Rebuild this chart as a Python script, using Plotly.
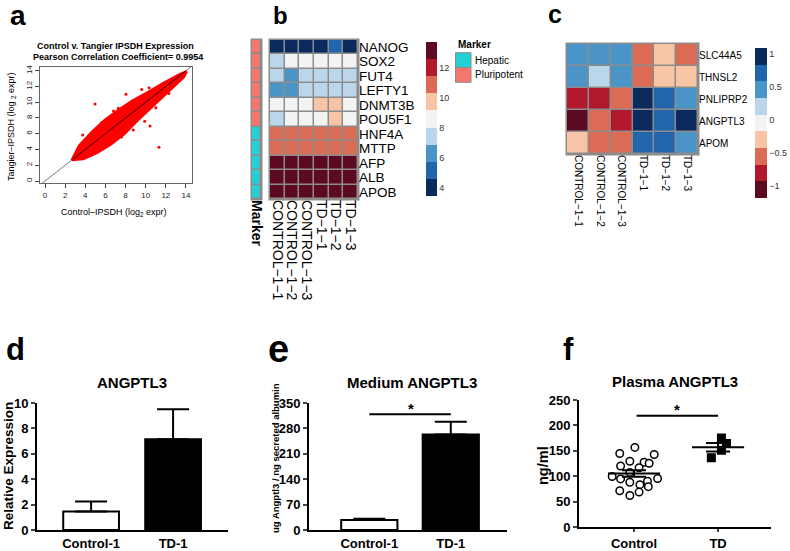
import plotly.graph_objects as go
import numpy as np

W, H = 790, 551
FONT = "Liberation Sans, Arial, sans-serif"

# ---------------- data ----------------
# a: outline of the dense point cloud and stray points
cloud_x = [2.65, 3.4, 4.7, 6.0, 7.4, 8.7, 10.1, 11.7, 13.4, 14.07,
           13.8, 12.8, 11.5, 10.2, 9.2, 7.9, 6.5, 5.2, 3.8, 2.65]
cloud_y = [2.66, 4.5, 6.3, 7.8, 9.1, 10.2, 11.2, 12.4, 13.55, 13.9,
           13.2, 12.0, 10.5, 9.0, 7.7, 6.0, 4.6, 3.6, 2.8, 2.66]
stray_x = [4.97, 3.74, 11.32, 10.43, 10.33, 8.04, 7.28, 6.13, 8.77, 5.3,
           9.6, 12.3, 6.8, 5.6, 9.9, 11.0, 7.6, 4.3]
stray_y = [9.77, 5.84, 4.28, 6.98, 11.84, 11.0, 9.22, 4.57, 6.47, 4.57,
           11.6, 11.1, 8.9, 7.4, 7.6, 9.3, 5.6, 3.3]
fit_x = [2.8, 13.9]
diag_x = [-1, 15]
a_ticks = [0, 2, 4, 6, 8, 10, 12, 14]

# b: expression heatmap
b_genes = ["NANOG", "SOX2", "FUT4", "LEFTY1", "DNMT3B", "POU5F1",
           "HNF4A", "MTTP", "AFP", "ALB", "APOB"]
samples = ["CONTROL−1−1", "CONTROL−1−2", "CONTROL−1−3", "TD−1−1", "TD−1−2", "TD−1−3"]
b_marker = ["Pluripotent"] * 6 + ["Hepatic"] * 5
b_values = [
    [4.0, 4.1, 4.0, 4.1, 5.0, 4.0],
    [7.6, 8.4, 8.5, 8.4, 8.6, 8.5],
    [7.5, 6.4, 7.4, 7.5, 7.6, 7.5],
    [6.5, 6.3, 7.3, 7.4, 7.5, 7.4],
    [8.6, 8.7, 8.8, 9.6, 9.7, 8.9],
    [7.6, 8.5, 8.6, 8.7, 9.5, 8.6],
    [10.9, 11.0, 10.9, 11.0, 10.9, 11.0],
    [10.8, 10.9, 10.9, 10.8, 10.9, 10.8],
    [13.3, 13.3, 13.3, 13.3, 13.3, 13.3],
    [13.4, 13.4, 13.4, 13.4, 13.4, 13.4],
    [13.2, 13.2, 13.2, 13.2, 13.2, 13.2],
]
b_ticks = [4, 6, 8, 10, 12]

# c: scaled expression heatmap
c_genes = ["SLC44A5", "THNSL2", "PNLIPRP2", "ANGPTL3", "APOM"]
c_values = [
    [0.45, 0.45, 0.45, -0.55, -0.3, -0.55],
    [0.45, 0.2, 0.45, -0.55, -0.3, -0.3],
    [-0.8, -0.8, -0.55, 1.0, 0.7, 0.45],
    [-1.05, -0.55, -0.8, 1.0, 0.7, 1.0],
    [-0.3, -0.55, -0.55, 0.7, 0.7, 0.45],
]
c_ticks = [-1, -0.5, 0, 0.5, 1]

# d
d_groups = ["Control-1", "TD-1"]
d_mean = [1.45, 7.15]
d_err = [0.8, 2.35]
d_ticks = [0, 2, 4, 6, 8, 10]

# e
e_mean = [27.5, 263]
e_err = [3.5, 35]
e_sig = 319
e_ticks = [0, 70, 140, 210, 280, 350]

# f
f_groups = ["Control", "TD"]
f_control = [156.7, 144.7, 142.7, 129.4, 127.4, 125.4, 120, 116.7, 107.4, 99.4,
             94.7, 95.4, 88, 90, 83.4, 79.4, 71.4, 68.7, 62]
f_control_dx = [0.01, -0.17, 0.24, -0.05, 0.12, 0.18, -0.16, 0.06, -0.05, -0.26,
                -0.16, 0.28, -0.05, 0.16, 0.07, 0.17, -0.17, 0.06, -0.05]
f_td = [175.4, 164.3, 151.3, 136.4]
f_td_dx = [0.04, 0.10, 0.04, -0.08]
f_sig = 219
f_ticks = [0, 50, 100, 150, 200, 250]

# colours
bins9 = ["#0A2A5E", "#2166AC", "#4A94C8", "#B9D6EA", "#F3F3F3",
         "#F7C4A6", "#DC6B55", "#B2182B", "#5C0A22"]
marker_colors = {"Hepatic": "#22D0D5", "Pluripotent": "#F7776E"}
GRID = "#8C8C8C"


def px(x):
    return x / W


def py(y):
    return 1 - y / H


def stepped(colors):
    n = len(colors)
    out = []
    for i, c in enumerate(colors):
        out += [[i / n, c], [(i + 1) / n, c]]
    return out


fig = go.Figure()

# ---------------- a ----------------
fig.add_trace(go.Scatter(x=diag_x, y=diag_x, mode="lines", line=dict(color="#555", width=0.8),
                         xaxis="x", yaxis="y", hoverinfo="skip"))
fig.add_trace(go.Scatter(x=cloud_x, y=cloud_y, mode="lines", fill="toself", fillcolor="#FF0000",
                         line=dict(color="#FF0000", width=2.5), xaxis="x", yaxis="y"))
fig.add_trace(go.Scatter(x=stray_x, y=stray_y, mode="markers",
                         marker=dict(color="#FF0000", size=3), xaxis="x", yaxis="y"))
fig.add_trace(go.Scatter(x=fit_x, y=fit_x, mode="lines", line=dict(color="black", width=0.8),
                         xaxis="x", yaxis="y"))

# ---------------- b ----------------
marker_codes = [[0 if m == "Pluripotent" else 1] for m in b_marker]
fig.add_trace(go.Heatmap(z=marker_codes, x=[0], y=list(range(len(b_genes))),
                         colorscale=[[0, marker_colors["Pluripotent"]], [0.5, marker_colors["Pluripotent"]],
                                     [0.5, marker_colors["Hepatic"]], [1, marker_colors["Hepatic"]]],
                         zmin=0, zmax=1, showscale=False, xgap=1.5, ygap=1.5,
                         xaxis="x2", yaxis="y2"))
fig.add_trace(go.Heatmap(z=b_values, x=list(range(len(samples))), y=list(range(len(b_genes))),
                         colorscale=stepped(bins9), zmin=3.45, zmax=13.7, xgap=1.5, ygap=1.5,
                         xaxis="x3", yaxis="y3",
                         colorbar=dict(x=px(426), xanchor="left", y=py(42), yanchor="top",
                                       len=154, lenmode="pixels", thickness=11, outlinewidth=0,
                                       xpad=0, ypad=0, tickvals=b_ticks, ticks="",
                                       title=dict(text="", side="right"),
                                       tickfont=dict(size=9, color="#333", family=FONT))))

# ---------------- c ----------------
fig.add_trace(go.Heatmap(z=c_values, x=list(range(len(samples))), y=list(range(len(c_genes))),
                         colorscale=stepped(bins9), reversescale=True, zmin=-1.18, zmax=1.09,
                         xgap=1.5, ygap=1.5, xaxis="x4", yaxis="y4",
                         colorbar=dict(x=px(755), xanchor="left", y=py(48), yanchor="top",
                                       len=150, lenmode="pixels", thickness=12, outlinewidth=0,
                                       xpad=0, ypad=0, tickvals=c_ticks, ticks="",
                                       title=dict(text="", side="right"),
                                       tickfont=dict(size=9, color="#333", family=FONT))))

# ---------------- d ----------------
fig.add_trace(go.Bar(x=[0, 1], y=d_mean, width=0.68,
                     marker=dict(color=["white", "black"], line=dict(color="black", width=2)),
                     error_y=dict(type="data", array=d_err, arrayminus=[0, 0], symmetric=False,
                                  color="black", thickness=2, width=16),
                     xaxis="x5", yaxis="y5"))

# ---------------- e ----------------
fig.add_trace(go.Bar(x=[0, 1], y=e_mean, width=0.69,
                     marker=dict(color=["white", "black"], line=dict(color="black", width=2)),
                     error_y=dict(type="data", array=e_err, arrayminus=[0, 0], symmetric=False,
                                  color="black", thickness=2, width=16),
                     xaxis="x6", yaxis="y6"))
fig.add_trace(go.Scatter(x=[0, 1], y=[e_sig, e_sig], mode="lines",
                         line=dict(color="black", width=2), xaxis="x6", yaxis="y6"))

# ---------------- f ----------------
for i, (vals, dx, sym, fill) in enumerate([(f_control, f_control_dx, "circle", "white"),
                                          (f_td, f_td_dx, "square", "black")]):
    fig.add_trace(go.Scatter(x=[i + d for d in dx], y=vals, mode="markers",
                             marker=dict(symbol=sym, size=7.5, color=fill,
                                         line=dict(color="black", width=1.5)),
                             xaxis="x7", yaxis="y7"))
    m = float(np.mean(vals))
    sem = float(np.std(vals, ddof=1) / np.sqrt(len(vals)))
    fig.add_trace(go.Scatter(x=[i - 0.31, i + 0.31], y=[m, m], mode="lines",
                             line=dict(color="black", width=2), xaxis="x7", yaxis="y7"))
    fig.add_trace(go.Scatter(x=[i], y=[m], mode="markers", marker=dict(size=0.1, color="black"),
                             error_y=dict(type="data", array=[sem], color="black",
                                          thickness=2, width=12),
                             xaxis="x7", yaxis="y7"))
fig.add_trace(go.Scatter(x=[0.03, 1], y=[f_sig, f_sig], mode="lines",
                         line=dict(color="black", width=2), xaxis="x7", yaxis="y7"))

# ---------------- axes ----------------
thin = dict(showgrid=False, zeroline=False, automargin=False)
fig.update_layout(
    xaxis=dict(domain=[px(40), px(192)], range=[-0.5, 14.6], anchor="y", tickvals=a_ticks,
               ticks="outside", ticklen=4, tickcolor="#444", showline=True, linecolor="#666",
               linewidth=1, mirror=True, tickfont=dict(size=8, color="#222", family=FONT), **thin),
    yaxis=dict(domain=[py(183), py(67)], range=[-0.25, 14.47], anchor="x", tickvals=a_ticks,
               ticks="outside", ticklen=4, tickcolor="#444", showline=True, linecolor="#666",
               linewidth=1, mirror=True, tickangle=-90,
               tickfont=dict(size=8, color="#222", family=FONT), **thin),
    xaxis2=dict(domain=[px(252), px(261)], range=[-0.5, 0.5], anchor="y2", tickvals=[0],
                ticktext=["Marker"], tickangle=90,
                tickfont=dict(size=14, color="black", family=FONT, weight="bold"), **thin),
    yaxis2=dict(domain=[py(199), py(40)], range=[10.5, -0.5], anchor="x2",
                showticklabels=False, **thin),
    xaxis3=dict(domain=[px(270), px(358)], range=[-0.5, 5.5], anchor="y3",
                tickvals=list(range(len(samples))), ticktext=samples, tickangle=90,
                tickfont=dict(size=14, color="black", family=FONT), **thin),
    yaxis3=dict(domain=[py(199), py(40)], range=[10.5, -0.5], anchor="x3", side="right",
                tickvals=list(range(len(b_genes))), ticktext=b_genes,
                tickfont=dict(size=13.5, color="black", family=FONT), **thin),
    xaxis4=dict(domain=[px(567), px(698)], range=[-0.5, 5.5], anchor="y4",
                tickvals=list(range(len(samples))), ticktext=samples, tickangle=90,
                tickfont=dict(size=10, color="black", family=FONT), **thin),
    yaxis4=dict(domain=[py(154), py(44)], range=[4.5, -0.5], anchor="x4", side="right",
                tickvals=list(range(len(c_genes))), ticktext=c_genes,
                tickfont=dict(size=10, color="black", family=FONT), **thin),
)

bold_x = dict(size=13, color="black", family=FONT, weight="bold")
bold_y = dict(size=13, color="black", family=FONT, weight="bold")
for n, dom, rng, ticks, cat, xr, xt in [
    (5, ([37, 228], [530, 403]), [0, 10], d_ticks, d_groups, [-0.66, 1.67], ""),
    (6, ([309, 507], [530, 403]), [0, 350], e_ticks, d_groups, [-0.74, 1.69], ""),
    (7, ([579, 771], [527, 400]), [0, 250], f_ticks, f_groups, [-0.655, 1.63], "outside"),
]:
    (x0, x1), (yb, yt) = dom
    fig.layout[f"xaxis{n}"] = dict(domain=[px(x0), px(x1)], range=xr, anchor=f"y{n}",
                                   tickvals=[0, 1], ticktext=cat, ticks=xt, ticklen=3, tickwidth=2,
                                   showline=True, linecolor="black", linewidth=2,
                                   tickfont=bold_x, **thin)
    fig.layout[f"yaxis{n}"] = dict(domain=[py(yb), py(yt)], range=rng, anchor=f"x{n}",
                                   tickvals=ticks, ticks="outside", ticklen=4, tickwidth=2,
                                   showline=True, linecolor="black", linewidth=2,
                                   tickfont=bold_y, **thin)

# ---------------- cell borders ----------------
for (x0, x1, y0, y1) in [(252, 261, 40, 199), (270, 358, 40, 199), (567, 698, 44, 154)]:
    fig.add_shape(type="rect", xref="paper", yref="paper", layer="below",
                  x0=px(x0 - 1.5), x1=px(x1 + 1.5), y0=py(y1 + 1.5), y1=py(y0 - 1.5),
                  fillcolor=GRID, line=dict(width=0))

# marker legend
for i, name in enumerate(["Hepatic", "Pluripotent"]):
    top = 52.7 + i * 14.8
    fig.add_shape(type="rect", xref="paper", yref="paper",
                  x0=px(455.5), x1=px(471), y0=py(top + 14.8), y1=py(top),
                  fillcolor=marker_colors[name], line=dict(color=GRID, width=1))


def label(text, x, y, size, bold=False, angle=0, xanchor="center", color="black"):
    fig.add_annotation(text=text, x=px(x), y=py(y), xref="paper", yref="paper", showarrow=False,
                       xanchor=xanchor, yanchor="middle", textangle=angle,
                       font=dict(size=size, color=color, family=FONT,
                                 weight="bold" if bold else "normal"))


label("Marker", 456, 45, 10, bold=True, xanchor="left")
label("Hepatic", 473, 60.5, 10, xanchor="left")
label("Pluripotent", 473, 75, 10, xanchor="left")

# panel letters
label("a", 18, 15, 28, bold=True)
label("b", 280, 15, 24, bold=True)
label("c", 555, 14, 25, bold=True)
label("d", 15, 349, 31, bold=True)
label("e", 278, 349, 38, bold=True)
label("f", 568, 349, 31, bold=True)

# panel a texts
label("Control v. Tangier IPSDH Expression", 115, 46, 9, bold=True)
label("Pearson Correlation Coefficient= 0.9954", 118, 57, 9, bold=True)
label("Control–IPSDH (log<sub>2</sub> expr)", 114, 212, 9)
label("Tangier–IPSDH (log <sub>2</sub> expr)", 12, 127, 9, angle=-90)

# bottom panel texts
label("ANGPTL3", 132, 382, 15, bold=True)
label("Medium ANGPTL3", 412, 382, 15, bold=True)
label("Plasma ANGPTL3", 675, 381, 15, bold=True)
label("Relative Expression", 8, 466, 13.5, bold=True, angle=-90)
label("ug Angptl3 / ng secreted albumin", 275, 458, 9.5, bold=True, angle=-90)
label("ng/ml", 543, 466, 14.5, bold=True, angle=-90)
label("*", 411, 408, 15, bold=True)
label("*", 677, 409, 15, bold=True)

fig.update_layout(width=W, height=H, margin=dict(l=0, r=0, t=0, b=0, autoexpand=False),
                  paper_bgcolor="white", plot_bgcolor="rgba(0,0,0,0)",
                  showlegend=False, font=dict(family=FONT))

fig.write_html("out.html", config={"displayModeBar": False},
               post_script="document.body.style.margin='0';")
